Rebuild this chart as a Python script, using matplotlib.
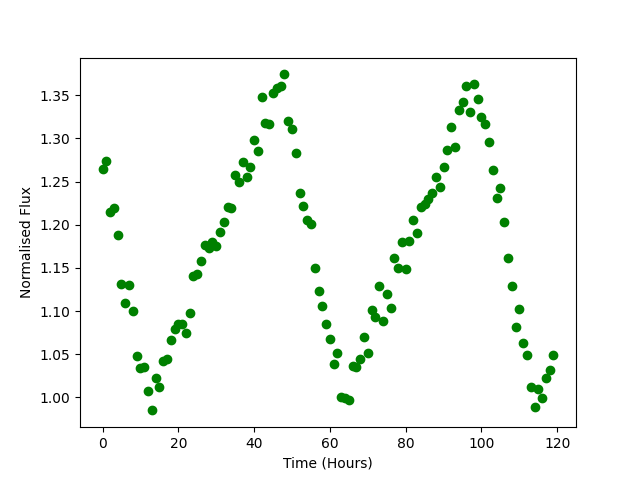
import matplotlib
matplotlib.use("Agg")
import matplotlib.pyplot as plt
import numpy as np

# one reading per hour
hours = np.arange(120)

flux = [
    1.265, 1.274, 1.215, 1.219, 1.188, 1.131, 1.109, 1.130, 1.100, 1.048,
    1.034, 1.035, 1.007, 0.985, 1.022, 1.012, 1.042, 1.045, 1.066, 1.079,
    1.085, 1.085, 1.075, 1.098, 1.141, 1.143, 1.158, 1.176, 1.173, 1.180,
    1.175, 1.192, 1.203, 1.220, 1.219, 1.258, 1.250, 1.273, 1.255, 1.267,
    1.298, 1.285, 1.348, 1.318, 1.316, 1.353, 1.358, 1.360, 1.374, 1.320,
    1.311, 1.283, 1.237, 1.222, 1.206, 1.201, 1.150, 1.123, 1.106, 1.085,
    1.068, 1.039, 1.051, 1.001, 0.999, 0.997, 1.036, 1.035, 1.045, 1.070,
    1.051, 1.101, 1.093, 1.129, 1.089, 1.120, 1.103, 1.162, 1.150, 1.180,
    1.149, 1.181, 1.206, 1.190, 1.220, 1.224, 1.230, 1.237, 1.255, 1.244,
    1.267, 1.287, 1.313, 1.290, 1.333, 1.342, 1.360, 1.330, 1.363, 1.346,
    1.325, 1.317, 1.296, 1.263, 1.231, 1.242, 1.203, 1.161, 1.129, 1.082,
    1.102, 1.063, 1.049, 1.012, 0.989, 1.010, 0.999, 1.022, 1.032, 1.049,
]

fig, ax = plt.subplots(figsize=(6.4, 4.8), dpi=100)
ax.plot(hours, flux, "o", color="green")
ax.set_xlabel("Time (Hours)")
ax.set_ylabel("Normalised Flux")

fig.savefig("out.png")
